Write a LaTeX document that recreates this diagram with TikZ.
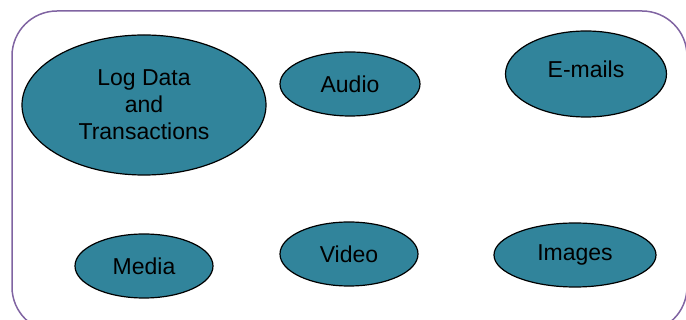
\documentclass[tikz,border=0pt]{standalone}
\usepackage{fontspec}
\setmainfont{Liberation Sans}
\usetikzlibrary{shapes.geometric}

\definecolor{tealfill}{HTML}{31849B}
\definecolor{frameline}{HTML}{8064A2}

\begin{document}
\begin{tikzpicture}[x=1pt, y=-1pt,
    source/.style={ellipse, draw=black, line width=1.2pt, fill=tealfill,
        inner sep=0pt, align=center, font=\fontsize{23}{27}\selectfont}]
    \useasboundingbox (0,0) rectangle (686,320);
    \begin{scope}
        \clip (0,0) rectangle (686,320);
        \draw[frameline, line width=1.5pt, rounded corners=45pt] (12,11) rectangle (687,332);
    \end{scope}

    \node[source, minimum width=244pt, minimum height=140pt] (logdata) at (144,105) {Log Data\\and\\Transactions};
    \node[source, minimum width=140pt, minimum height=64pt] (audio) at (350,84) {Audio};
    \node[source, minimum width=161pt, minimum height=86pt, text depth=9pt] (emails) at (586,74) {E-mails};
    \node[source, minimum width=138pt, minimum height=64pt] (media) at (144,266) {Media};
    \node[source, minimum width=138pt, minimum height=64pt] (video) at (349,254) {Video};
    \node[source, minimum width=162pt, minimum height=64pt] (images) at (575,255) {Images};
\end{tikzpicture}
\end{document}
